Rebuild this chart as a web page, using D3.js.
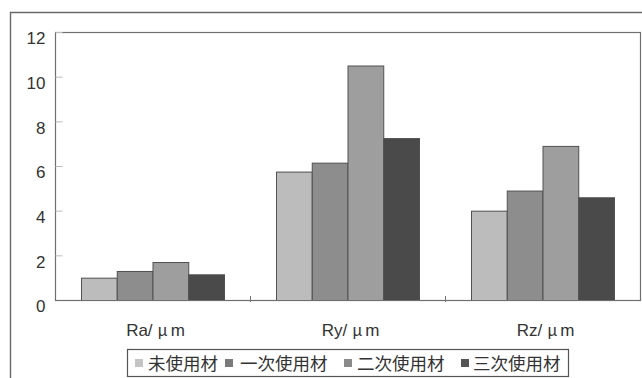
<!DOCTYPE html>
<html><head><meta charset="utf-8">
<script src="https://cdn.jsdelivr.net/npm/d3@7"></script>
<style>
html,body{margin:0;padding:0;background:#fff;}
svg{display:block;}
</style></head>
<body>
<svg id="chart" width="642" height="378"></svg>
<script>
const categories = ["Ra", "Ry", "Rz"];
const seriesNames = ["未使用材", "一次使用材", "二次使用材", "三次使用材"];
const unused = [1.0, 5.75, 4.0];
const firstUse = [1.3, 6.15, 4.9];
const secondUse = [1.7, 10.5, 6.9];
const thirdUse = [1.15, 7.25, 4.6];
const yTicks = [0, 2, 4, 6, 8, 10, 12];

const seriesValues = [unused, firstUse, secondUse, thirdUse];
const colors = ["#bcbcbc", "#8d8d8d", "#9e9e9e", "#4a4a4a"];
const legendColors = ["#c4c4c4", "#7a7a7a", "#8a8a8a", "#555555"];

const svg = d3.select("#chart");
const mLeft = 55, mRight = 640, mTop = 32, mBottom = 300;

// outer frame
svg.append("path").attr("d", "M10.5,378 L10.5,12.5 L642,12.5")
  .attr("fill", "none").attr("stroke", "#6a6a6a").attr("stroke-width", 1.4);

const x0 = d3.scaleBand().domain(categories).range([mLeft, mRight]).paddingInner(0).paddingOuter(0);
const y = d3.scaleLinear().domain([0, 12]).range([mBottom, mTop]);
const groupW = 143;
const x1 = d3.scaleBand().domain(d3.range(seriesNames.length)).range([0, groupW]).padding(0);

// plot area frame
svg.append("rect").attr("x", mLeft + 0.5).attr("y", mTop + 0.5)
  .attr("width", mRight - mLeft).attr("height", mBottom - mTop)
  .attr("fill", "#fff").attr("stroke", "#6f6f6f").attr("stroke-width", 1.2);

// y axis
const yAxis = d3.axisLeft(y).tickValues(yTicks).tickSize(-7).tickPadding(10).tickFormat(d3.format("d"));
const ya = svg.append("g").attr("transform", `translate(${mLeft + 0.5},0)`).call(yAxis);
ya.select(".domain").remove();
ya.selectAll(".tick line").attr("stroke", "#bbb");
ya.selectAll(".tick text").attr("font-family", "'Liberation Sans', Arial, sans-serif")
  .attr("font-size", 17).attr("fill", "#333").attr("dy", "0.7em");

// bars
categories.forEach((c, ci) => {
  const gx = x0(c) + (x0.bandwidth() - groupW) / 2;
  seriesValues.forEach((vals, si) => {
    svg.append("rect")
      .attr("x", gx + x1(si) + 0.5)
      .attr("y", y(vals[ci]) + 0.5)
      .attr("width", x1.bandwidth())
      .attr("height", y(0) - y(vals[ci]))
      .attr("fill", colors[si])
      .attr("stroke", "#505050").attr("stroke-width", 1);
  });
});

// x axis baseline & separators
svg.append("line").attr("x1", mLeft).attr("x2", mRight).attr("y1", mBottom + 0.5).attr("y2", mBottom + 0.5)
  .attr("stroke", "#6f6f6f").attr("stroke-width", 1.2);
categories.slice(1).forEach(c => {
  svg.append("line").attr("x1", x0(c) + 0.5).attr("x2", x0(c) + 0.5)
    .attr("y1", mBottom - 4).attr("y2", mBottom + 2).attr("stroke", "#777");
});

// category labels
categories.forEach(c => {
  const t = svg.append("text").attr("x", x0(c) + x0.bandwidth() / 2 + 3).attr("y", 336)
    .attr("text-anchor", "middle").attr("font-size", 17).attr("fill", "#333")
    .attr("font-family", "'Liberation Sans', Arial, sans-serif");
  t.append("tspan").text(c + "/");
  t.append("tspan").attr("dx", 5).attr("font-family", "'Noto Sans CJK JP'").attr("font-size", 16).text("μ");
  t.append("tspan").attr("dx", 3).text("m");
});

// legend
svg.append("rect").attr("x", 127.5).attr("y", 349.5).attr("width", 441).attr("height", 27)
  .attr("fill", "#fff").attr("stroke", "#555").attr("stroke-width", 1.2);
const markerX = [135, 225, 344, 461];
const textX = [148, 240, 357, 473];
seriesNames.forEach((n, i) => {
  svg.append("rect").attr("x", markerX[i]).attr("y", 359).attr("width", 8).attr("height", 8)
    .attr("fill", legendColors[i]);
  svg.append("text").attr("x", textX[i]).attr("y", 370)
    .attr("font-family", "'Noto Sans CJK JP', sans-serif").attr("font-size", 17.5).attr("fill", "#333")
    .text(n);
});
</script>
</body></html>
